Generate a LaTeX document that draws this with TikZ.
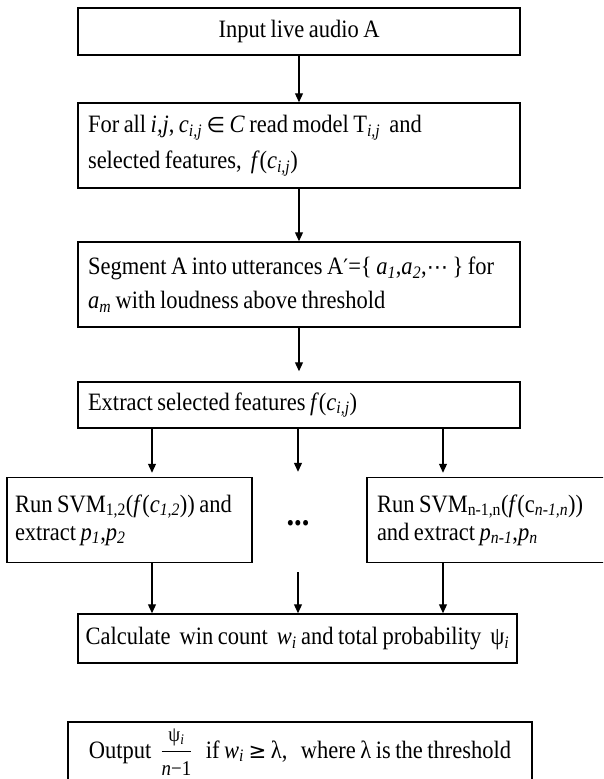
\documentclass[tikz,border=0pt]{standalone}
\usepackage{amsmath}
\usepackage{fontspec}
\setmainfont{Liberation Serif}[FakeStretch=0.9, WordSpace=0.8]
\newfontfamily\symf{DejaVu Sans}[Scale=0.85]
\usetikzlibrary{arrows.meta}
\newcommand\mysub[1]{\textsubscript{#1}}
\newcommand\myisub[1]{\textsubscript{\textit{#1}}}
\begin{document}
\begin{tikzpicture}[x=1pt,y=-1pt,
  font=\fontsize{25}{34}\selectfont,
  box/.style={draw, line width=1.5pt, inner xsep=10pt, inner ysep=0pt, align=flush left},
  cbox/.style={draw, line width=1.5pt, inner sep=0pt, align=center},
  arr/.style={line width=1.2pt, -{Triangle[length=9pt,width=8pt]}}]
\useasboundingbox (0,0) rectangle (603,779);
\clip (0,0) rectangle (603,779);

\node[cbox, minimum width=442pt, minimum height=47pt] (b1) at (299,31.5) {Input live audio A};
\node[box, text width=422pt, minimum height=85pt, font=\fontsize{25}{36}\selectfont] (b2) at (299,145.5)
  {For all \textit{i,j}, \textit{c}\myisub{i,j} {\symf ∈} \textit{C} read model T\myisub{i,j}\ \ and\\
   selected features,\ \ \textit{f}(\textit{c}\myisub{i,j})};
\node[box, text width=422pt, minimum height=85pt] (b3) at (299,284.5)
  {Segment A into utterances A{\symf ′}=\{ \textit{a}\myisub{1},\textit{a}\myisub{2},{\symf ⋯} \} for\\
   \textit{a}\myisub{m} with loudness above threshold};
\node[box, text width=422pt, minimum height=46pt] (b4) at (299,405)
  {Extract selected features \textit{f}(\textit{c}\myisub{i,j})};

\node[box, inner xsep=8pt, text width=229pt, minimum height=85pt, font=\fontsize{25}{28}\selectfont] (s1) at (129.5,520)
  {Run SVM\mysub{1,2}(\textit{f}(\textit{c}\myisub{1,2})) and\\
   extract \textit{p}\myisub{1},\textit{p}\myisub{2}};
\node[box, text width=253pt, minimum height=85pt, font=\fontsize{25}{28}\selectfont] (s2) at (503.5,520)
  {Run SVM\mysub{n-1,n}(\textit{f}(c\myisub{n-1,n}))\\
   and extract \textit{p}\myisub{n-1},\textit{p}\myisub{n}};
\node[inner sep=0pt, minimum height=98pt, font=\fontsize{34}{34}\selectfont\bfseries] (dots) at (298,523) {...};

\node[cbox, minimum width=439pt, minimum height=49pt] (c) at (297.5,638.5)
  {Calculate\ \ win count\ \ \textit{w}\myisub{i} and total probability\ \ ψ\myisub{i}};
\node[cbox, minimum width=464pt, minimum height=60pt] (o) at (300,752)
  {Output\ \ $\dfrac{\text{\fontsize{21}{21}\selectfont ψ\textsubscript{\textit{i}}}}{\text{\fontsize{21}{21}\selectfont\textit{n}−1}}$\ \ \ if \textit{w}\myisub{i} {\symf ≥} λ,\ \ \ where λ is the threshold};

\coordinate (xl) at (152,0);
\coordinate (xr) at (443,0);

\draw[arr] (b1) -- (b2);
\draw[arr] (b2) -- (b3);
\draw[arr, shorten >=10pt] (b3) -- (b4);
\draw[arr, shorten >=4pt] (b4.south -| xl) -- (s1.north -| xl);
\draw[arr, shorten >=2pt] (b4.south -| dots) -- (dots.north);
\draw[arr, shorten >=4pt] (b4.south -| xr) -- (s2.north -| xr);
\draw[arr] (s1.south -| xl) -- (c.north -| xl);
\draw[arr] (dots.south) -- (c.north -| dots);
\draw[arr] (s2.south -| xr) -- (c.north -| xr);
\end{tikzpicture}
\end{document}
